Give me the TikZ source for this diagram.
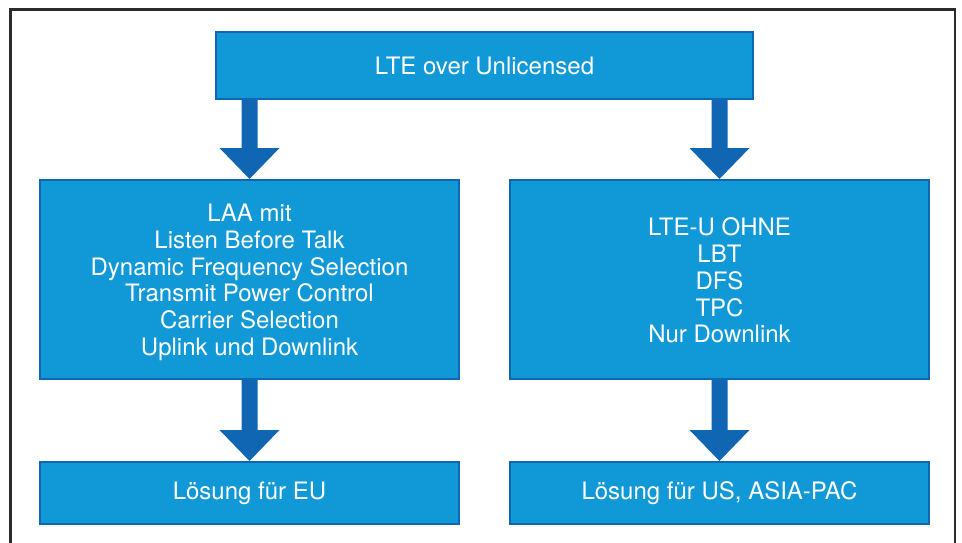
\documentclass[tikz,border=0pt]{standalone}
\usepackage{fontspec}
\setmainfont{TeX Gyre Heros}
\usetikzlibrary{calc,backgrounds}

\definecolor{boxfill}{HTML}{1199D7}
\definecolor{arrowblue}{HTML}{1166B4}
\definecolor{framegray}{HTML}{2B2B2B}

\tikzset{
  box/.style={draw=arrowblue, line width=2pt, fill=boxfill, text=white,
    align=center, font=\fontsize{24}{26.7}\selectfont, inner sep=0pt,
    anchor=north west},
}

% broad block arrow: shaft 16pt wide, head 60pt wide and 31pt long
\newcommand\fatarrow[2]{%
  \fill[arrowblue] let \p1=(#1), \p2=(#2) in
    (\x2-8pt,\y1) -- (\x2+8pt,\y1) -- (\x2+8pt,\y2+31pt) -- (\x2+30pt,\y2+31pt)
    -- (\x2,\y2) -- (\x2-30pt,\y2+31pt) -- (\x2-8pt,\y2+31pt) -- cycle;}

\begin{document}
\begin{tikzpicture}[x=1pt,y=-1pt]
  \useasboundingbox (0,0) rectangle (962,543);
  \clip (0,0) rectangle (962,543);

  % outer frame, open at the bottom
  \draw[framegray, line width=2.5pt] (10.5,560) -- (10.5,9.5) -- (955,9.5) -- (955,560);

  \node[box, minimum width=537pt, minimum height=67pt] (top) at (215,31) {LTE over Unlicensed};
  \node[box, minimum width=419pt, minimum height=199pt] (laa) at (39,179)
    {\rule{0pt}{23.5pt}LAA mit\\Listen Before Talk\\Dynamic Frequency Selection\\Transmit Power Control\\Carrier Selection\\Uplink und Downlink};
  \node[box, minimum width=419pt, minimum height=199pt] (lteu) at (509,179)
    {\rule{0pt}{20pt}LTE-U OHNE\\LBT\\DFS\\TPC\\Nur Downlink};
  \node[box, minimum width=419pt, minimum height=62pt] (eu) at (39,461) {Lösung für EU};
  \node[box, minimum width=419pt, minimum height=62pt] (us) at (509,461) {Lösung für US, ASIA-PAC};

  \begin{scope}[on background layer]
    \fatarrow{top.south}{laa.north}
    \fatarrow{top.south}{lteu.north}
    \fatarrow{laa.south}{eu.north}
    \fatarrow{lteu.south}{us.north}
  \end{scope}
\end{tikzpicture}
\end{document}
